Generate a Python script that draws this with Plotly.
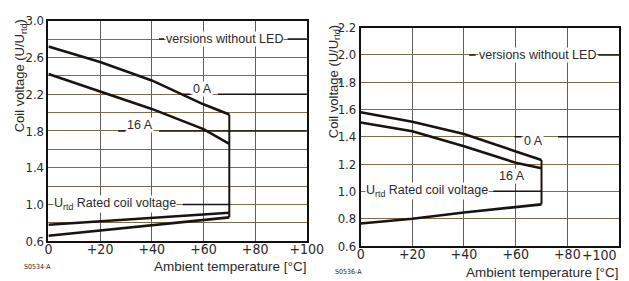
import plotly.graph_objects as go

# ---------------- data ----------------
temps = [0, 20, 40, 60, 70]
temp_ends = [0, 70]

# left chart (S0534-A)
left_0A = [2.72, 2.55, 2.35, 2.09, 1.98]
left_16A = [2.42, 2.23, 2.04, 1.82, 1.66]
left_min_upper = [0.78, 0.91]
left_min_lower = [0.66, 0.86]

# right chart (S0536-A)
right_0A = [1.58, 1.51, 1.42, 1.29, 1.23]
right_16A = [1.505, 1.44, 1.33, 1.21, 1.17]
right_min = [0.765, 0.80, 0.845, 0.886, 0.905]

x_ticks = [0, 20, 40, 60, 80, 100]
x_tick_text = ["0", "+20", "+40", "+60", "+80", "+100"]
left_y_ticks = [0.6, 1.0, 1.4, 1.8, 2.2, 2.6, 3.0]
left_y_text = ["0.6", "1.0", "1.4", "1.8", "2.2", "2.6", "3.0"]
left_y_minor = [0.8, 1.2, 1.6, 2.0, 2.4, 2.8]
right_y_ticks = [0.6, 0.8, 1.0, 1.2, 1.4, 1.6, 1.8, 2.0, 2.2]
right_y_text = ["0.6", "0.8", "1.0", "1.2", "1.4", "1.6", "1.8", "2.0", "2.2"]

LINE = "#1a1410"
HGRID = "#806c48"
VGRID = "#5e5e5e"
TXT = "#2a2a2a"
FONT = "Liberation Sans, Arial, sans-serif"
NARROW = "DejaVu Sans Condensed, Liberation Sans Narrow, Liberation Sans, Arial, sans-serif"

fig = go.Figure()

def add_line(x, y, xa, ya, w=2.6):
    fig.add_trace(go.Scatter(x=x, y=y, mode="lines", xaxis=xa, yaxis=ya,
                             line=dict(color=LINE, width=w), showlegend=False,
                             hoverinfo="skip"))

# left
add_line(temps, left_0A, "x", "y")
add_line(temps, left_16A, "x", "y")
add_line(temp_ends, left_min_upper, "x", "y")
add_line(temp_ends, left_min_lower, "x", "y")
add_line([temps[-1], temps[-1]], [left_0A[-1], left_min_lower[-1]], "x", "y", 2.0)
# right
add_line(temps, right_0A, "x2", "y2")
add_line(temps, right_16A, "x2", "y2")
add_line(temps, right_min, "x2", "y2")
add_line([temps[-1], temps[-1]], [right_0A[-1], right_min[-1]], "x2", "y2", 2.0)

axis_common = dict(showline=True, linecolor="#111", linewidth=1.5, mirror=True,
                   ticks="", zeroline=False)
xtickfont = dict(family=NARROW, size=14, color=TXT)
ytickfont = dict(family=NARROW, size=13, color=TXT)

fig.update_layout(
    width=629, height=281,
    margin=dict(l=0, r=0, t=0, b=0),
    paper_bgcolor="white", plot_bgcolor="white",
    xaxis=dict(domain=[0.0599, 0.4849], range=[0, 100], tickvals=x_ticks,
               ticktext=x_tick_text, showgrid=True, gridcolor=VGRID, gridwidth=1,
               anchor="y", tickfont=xtickfont, ticklabelstandoff=-6, **axis_common),
    yaxis=dict(domain=[0.1495, 0.9786], range=[0.6, 3.0], tickvals=left_y_ticks,
               ticktext=left_y_text, showgrid=True, gridcolor=HGRID, gridwidth=1,
               minor=dict(tickvals=left_y_minor, showgrid=True, gridcolor=HGRID,
                          gridwidth=1, ticks=""),
               anchor="x", tickfont=ytickfont, **axis_common),
    xaxis2=dict(domain=[0.5734, 0.9984], range=[0, 100], tickvals=x_ticks[:-1],
                ticktext=x_tick_text[:-1], showgrid=True, gridcolor=VGRID, gridwidth=1,
                anchor="y2", tickfont=xtickfont, ticklabelstandoff=-6, **axis_common),
    yaxis2=dict(domain=[0.1317, 0.9527], range=[0.6, 2.2], tickvals=right_y_ticks,
                ticktext=right_y_text, showgrid=True, gridcolor=HGRID, gridwidth=1,
                anchor="x2", tickfont=ytickfont, **axis_common),
)

# last tick label of the right chart sits against the page edge
fig.add_annotation(text=x_tick_text[-1], x=x_ticks[-1], xref="x2", y=1 - 254 / 281,
                   yref="paper", xanchor="right", yanchor="middle", showarrow=False,
                   font=xtickfont)

# leader lines (label guide lines)
leaders = [
    ("x", "y", 42.8, 44.8, 2.8), ("x", "y", 92.6, 100, 2.8),
    ("x", "y", 52, 55, 2.2), ("x", "y", 65.6, 100, 2.2),
    ("x", "y", 27, 29.8, 1.8), ("x", "y", 42.8, 100, 1.8),
    ("x", "y", 52, 70, 1.0),
    ("x2", "y2", 42, 44.5, 2.0), ("x2", "y2", 92, 100, 2.0),
    ("x2", "y2", 59.6, 62.2, 1.4), ("x2", "y2", 76.4, 100, 1.4),
    ("x2", "y2", 51.3, 70, 1.0),
]
for xr, yr, x0, x1, yv in leaders:
    fig.add_shape(type="line", xref=xr, yref=yr, x0=x0, x1=x1, y0=yv, y1=yv,
                  line=dict(color=LINE, width=1.5), layer="above")

def label(text, x, y, xr, yr, size=12.5):
    fig.add_annotation(text=text, x=x, y=y, xref=xr, yref=yr, showarrow=False,
                       font=dict(family=FONT, size=size, color=TXT),
                       bgcolor="white", borderpad=0, xanchor="center", yanchor="middle")

label("versions without LED", 68.3, 2.8, "x", "y")
label("0 A", 59.8, 2.26, "x", "y")
label("16 A", 35.5, 1.87, "x", "y")
label("U<sub>rtd</sub> Rated coil voltage", 25.8, 1.0, "x", "y")
label("versions without LED", 68.5, 2.0, "x2", "y2")
label("0 A", 67, 1.37, "x2", "y2")
label("16 A", 58.5, 1.11, "x2", "y2")
label("U<sub>rtd</sub> Rated coil voltage", 25.5, 1.0, "x2", "y2")

# axis titles and figure codes (paper coordinates)
def ptext(text, xpx, ypx, xanchor="center", size=13.5, angle=0, family=FONT):
    fig.add_annotation(text=text, x=xpx / 629, y=1 - ypx / 281, xref="paper", yref="paper",
                       showarrow=False, xanchor=xanchor, yanchor="middle",
                       textangle=angle, font=dict(family=family, size=size, color=TXT))

ptext("Ambient temperature [°C]", 306, 266, xanchor="right")
ptext("Ambient temperature [°C]", 629, 272, xanchor="right")
ptext("S0534-A", 10, 266, xanchor="left", size=7, family=NARROW)
ptext("S0536-A", 332, 272, xanchor="left", size=7, family=NARROW)
ptext("Coil voltage (U/U<sub>rtd</sub>)", 9, 64, angle=-90, size=13)
ptext("Coil voltage (U/U<sub>rtd</sub>)", 333, 70, angle=-90, size=13)

fig.write_html("out.html")
